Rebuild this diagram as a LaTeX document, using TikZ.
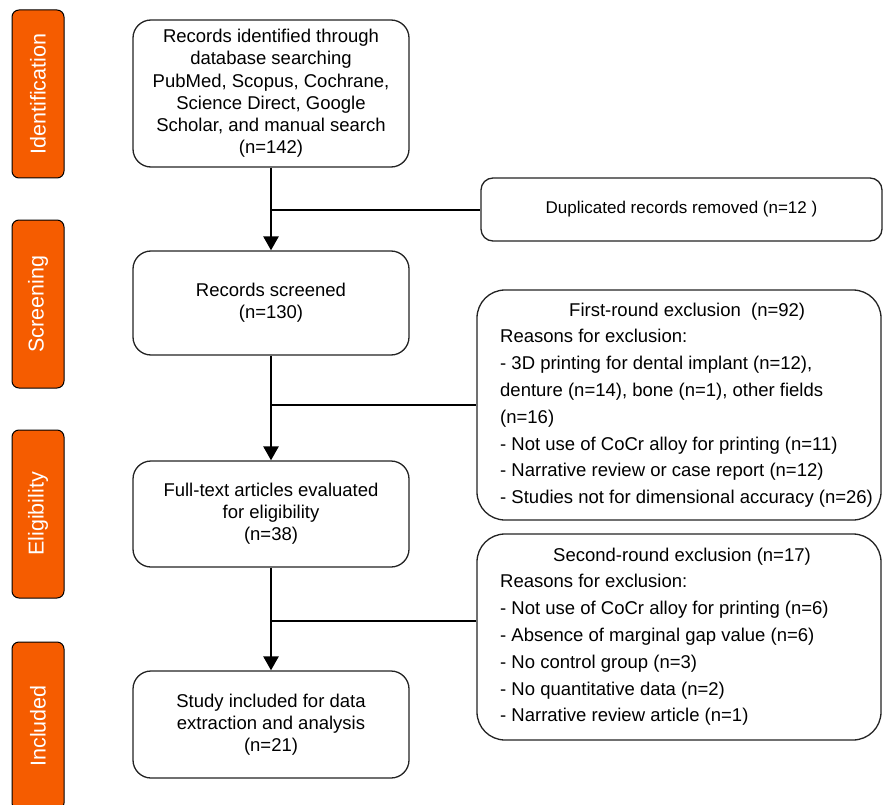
\documentclass[tikz,border=0pt]{standalone}
\usepackage{fontspec}
\setmainfont{Liberation Sans}
\usetikzlibrary{arrows.meta}
\definecolor{stageorange}{RGB}{245,92,0}
\definecolor{boxline}{RGB}{35,35,35}
\begin{document}
\begin{tikzpicture}[x=1pt,y=-1pt,
  stagebar/.style={draw=black,line width=1pt,fill=stageorange,rounded corners=7pt,
    minimum width=52pt,minimum height=168pt,inner sep=0pt,text=white,
    font=\fontsize{21.5}{26}\selectfont},
  mainbox/.style={draw=boxline,line width=1.3pt,rounded corners=18pt,fill=white,
    minimum width=276pt,inner sep=0pt,align=center,
    font=\fontsize{18.5}{22.2}\selectfont},
  dupbox/.style={draw=boxline,line width=1.3pt,rounded corners=12pt,
    minimum width=401pt,minimum height=63pt,inner sep=0pt,
    font=\fontsize{17}{20}\selectfont},
  exbox/.style={draw=boxline,line width=1.3pt,rounded corners=28pt,
    minimum width=404pt,inner sep=0pt},
  extext/.style={anchor=north west,inner sep=0pt,align=left,
    font=\fontsize{18.5}{26.8}\selectfont},
  flow/.style={line width=2.6pt,-{Triangle[width=15pt,length=14pt]}},
  side/.style={line width=2pt}
]
\useasboundingbox (0,0) rectangle (883,805);

% stage bars
\node[stagebar] (sid) at (38,94) {\rotatebox{90}{Identification}};
\node[stagebar] (sscr) at (38,304) {\rotatebox{90}{Screening}};
\node[stagebar] (selig) at (38,514) {\rotatebox{90}{Eligibility}};
\node[stagebar] (sinc) at (38,726) {\rotatebox{90}{Included}};

% main boxes
\node[mainbox,minimum height=147pt] (b1) at (271,93.5)
  {Records identified through\\database searching\\PubMed, Scopus, Cochrane,\\Science Direct, Google\\Scholar, and manual search\\(n=142)};
\node[mainbox,minimum height=104pt] (b2) at (271,303)
  {Records screened\\(n=130)};
\node[mainbox,minimum height=106pt] (b3) at (271,514)
  {Full-text articles evaluated\\for eligibility\\(n=38)};
\node[mainbox,minimum height=107pt] (b4) at (271,724.5)
  {Study included for data\\extraction and analysis\\(n=21)};

% side boxes
\node[dupbox] (dup) at (681.5,209.5) {Duplicated records removed (n=12 )};
\node[exbox,minimum height=230pt] (fr) at (679,405) {};
\node[extext] (frtext) at (500,302.5)
  {\hspace*{69pt}First-round exclusion\ \ (n=92)\\
   Reasons for exclusion:\\
   - 3D printing for dental implant (n=12),\\
   denture (n=14), bone (n=1), other fields\\
   (n=16)\\
   - Not use of CoCr alloy for printing (n=11)\\
   - Narrative review or case report (n=12)\\
   - Studies not for dimensional accuracy (n=26)};
\node[exbox,minimum height=206pt] (sr) at (679,637) {};
\node[extext] (srtext) at (500,547.5)
  {\hspace*{53pt}Second-round exclusion (n=17)\\
   Reasons for exclusion:\\
   - Not use of CoCr alloy for printing (n=6)\\
   - Absence of marginal gap value (n=6)\\
   - No control group (n=3)\\
   - No quantitative data (n=2)\\
   - Narrative review article (n=1)};

% connectors
\coordinate (j1) at (271,210);
\coordinate (j2) at (271,405);
\coordinate (j3) at (271,621);
\draw[flow] (b1.south) -- (b2.north);
\draw[flow] (b2.south) -- (b3.north);
\draw[flow] (b3.south) -- (b4.north);
\draw[side] (j1) -- (j1 -| dup.west);
\draw[side] (j2) -- (fr.west);
\draw[side] (j3) -- (j3 -| sr.west);
\end{tikzpicture}
\end{document}
